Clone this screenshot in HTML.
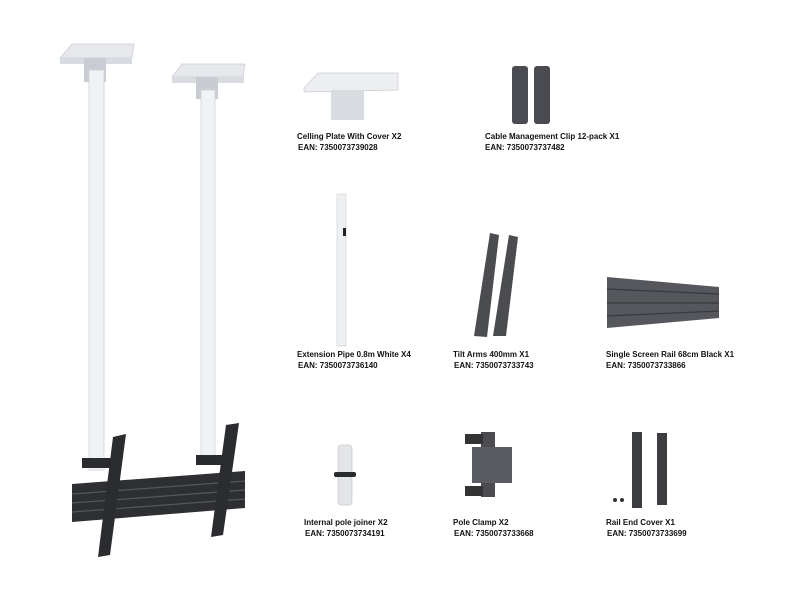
<!DOCTYPE html>
<html><head><meta charset="utf-8"><style>
html,body{margin:0;padding:0;background:#fff;}
svg{display:block}
text{font-family:"Liberation Sans",sans-serif;font-weight:bold;font-size:8px;fill:#111}
</style></head><body>
<svg width="800" height="600" viewBox="0 0 800 600" xmlns="http://www.w3.org/2000/svg">
<rect width="800" height="600" fill="#fff"/>
<!-- left assembly -->
<g>
<polygon points="60,58 72,44 134,44 132,58" fill="#e6e8ec" stroke="#c8cbd0" stroke-width="0.7"/>
<rect x="60" y="58" width="72" height="6" fill="#d8dbe0"/>
<rect x="84" y="58" width="22" height="24" fill="#c9ccd2"/>
<rect x="89" y="70" width="15" height="400" fill="#f1f2f4" stroke="#d0d3d8" stroke-width="0.8"/>
<polygon points="172,77 182,64 245,64 243,77" fill="#e6e8ec" stroke="#c8cbd0" stroke-width="0.7"/>
<rect x="172" y="77" width="72" height="6" fill="#d8dbe0"/>
<rect x="196" y="77" width="22" height="22" fill="#c9ccd2"/>
<rect x="201" y="90" width="14" height="372" fill="#f1f2f4" stroke="#d0d3d8" stroke-width="0.8"/>
<!-- rail -->
<polygon points="72,484 245,471 245,508 72,522" fill="#2e2f33"/>
<line x1="72" y1="494" x2="245" y2="481" stroke="#55575c" stroke-width="1.2"/>
<line x1="72" y1="503" x2="245" y2="490" stroke="#55575c" stroke-width="1.2"/>
<line x1="72" y1="512" x2="245" y2="499" stroke="#55575c" stroke-width="1.2"/>
<rect x="82" y="458" width="30" height="10" fill="#2a2b2e"/>
<rect x="196" y="455" width="30" height="10" fill="#2a2b2e"/>
<!-- tilt arms -->
<polygon points="113,437 126,434 110,555 98,557" fill="#2b2c30"/>
<polygon points="226,425 239,423 223,535 211,537" fill="#2b2c30"/>
</g>
<!-- ceiling plate -->
<polygon points="304,88 318,73 398,73 398,90 304,92" fill="#eceef1" stroke="#c9ccd1" stroke-width="0.7"/>
<rect x="331" y="90" width="33" height="30" fill="#d8dbe0"/>
<text x="297" y="139">Celling Plate With Cover X2</text>
<text x="298" y="150">EAN: 7350073739028</text>
<!-- clips -->
<rect x="512" y="66" width="16" height="58" rx="3" fill="#4a4b50"/>
<rect x="534" y="66" width="16" height="58" rx="3" fill="#4a4b50"/>
<text x="485" y="139">Cable Management Clip 12-pack X1</text>
<text x="485" y="150">EAN: 7350073737482</text>
<!-- extension pipe -->
<rect x="337" y="194" width="9" height="152" fill="#eff0f2" stroke="#d0d3d8" stroke-width="0.7"/>
<rect x="343" y="228" width="3" height="8" fill="#222"/>
<text x="297" y="357">Extension Pipe 0.8m White X4</text>
<text x="298" y="368">EAN: 7350073736140</text>
<!-- tilt arms -->
<polygon points="490,233 499,235 487,337 474,336" fill="#4b4c50"/>
<polygon points="509,235 518,237 506,336 493,336" fill="#4b4c50"/>
<text x="453" y="357">Tilt Arms 400mm X1</text>
<text x="454" y="368">EAN: 7350073733743</text>
<!-- rail -->
<polygon points="607,277 719,287 719,318 607,328" fill="#55575c"/>
<line x1="607" y1="289" x2="719" y2="294" stroke="#38393d" stroke-width="1.3"/>
<line x1="607" y1="303" x2="719" y2="303" stroke="#38393d" stroke-width="1.3"/>
<line x1="607" y1="316" x2="719" y2="311" stroke="#38393d" stroke-width="1.3"/>
<text x="606" y="357">Single Screen Rail 68cm Black X1</text>
<text x="606" y="368">EAN: 7350073733866</text>
<!-- joiner -->
<rect x="338" y="445" width="14" height="60" rx="3" fill="#e3e5e8" stroke="#c5c8cc" stroke-width="0.7"/>
<rect x="334" y="472" width="22" height="5" rx="2" fill="#2a2b2e"/>
<text x="304" y="525">Internal pole joiner X2</text>
<text x="305" y="536">EAN: 7350073734191</text>
<!-- pole clamp -->
<rect x="481" y="432" width="14" height="65" fill="#4b4c50"/>
<rect x="472" y="447" width="40" height="36" fill="#5b5c61"/>
<rect x="465" y="434" width="18" height="10" fill="#333"/>
<rect x="465" y="486" width="18" height="10" fill="#333"/>
<text x="453" y="525">Pole Clamp X2</text>
<text x="454" y="536">EAN: 7350073733668</text>
<!-- rail end cover -->
<rect x="632" y="432" width="10" height="76" fill="#3c3d41"/>
<rect x="657" y="433" width="10" height="72" fill="#3c3d41"/>
<circle cx="615" cy="500" r="2" fill="#333"/>
<circle cx="622" cy="500" r="2" fill="#333"/>
<text x="606" y="525">Rail End Cover X1</text>
<text x="607" y="536">EAN: 7350073733699</text>
</svg>
</body></html>
